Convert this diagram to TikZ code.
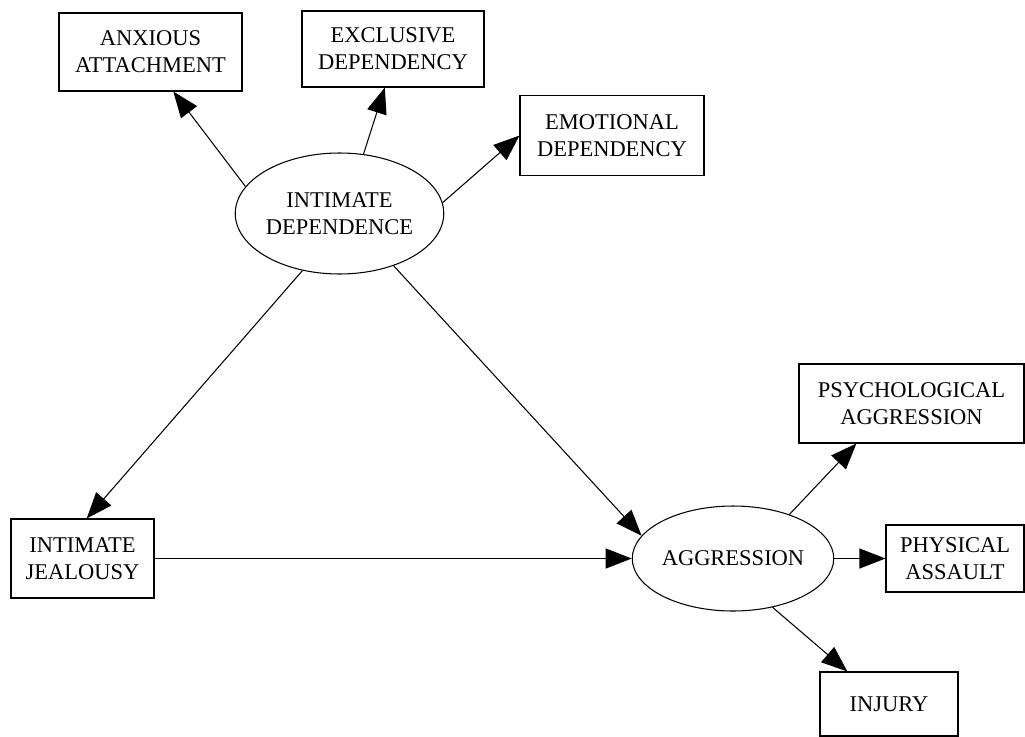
\documentclass[tikz,border=0pt]{standalone}
\usepackage{fontspec}
\setmainfont{Liberation Serif}
\usepackage{tikz}
\usetikzlibrary{shapes.geometric,arrows.meta}

\begin{document}
\begin{tikzpicture}
\tikzstyle{latent}=[ellipse, draw=black, line width=0.6pt, inner sep=0pt, align=center, font=\fontsize{12.8}{15.4}\selectfont]
\tikzstyle{observed}=[rectangle, draw=black, line width=0.6pt, inner sep=0pt, align=center, font=\fontsize{12.8}{15.4}\selectfont]
\tikzstyle{connect}=[-{Triangle[length=5.2mm, width=4mm]}, line width=0.6pt]
\useasboundingbox (0,0) rectangle (20.5,-14.72);
	\node[observed, minimum width=3.66cm, minimum height=1.56cm] (anx) at (3.01,-1.04) {ANXIOUS\\ATTACHMENT};
	\node[observed, minimum width=3.64cm, minimum height=1.52cm] (exc) at (7.86,-0.98) {EXCLUSIVE\\DEPENDENCY};
	\node[observed, minimum width=3.68cm, minimum height=1.6cm] (emo) at (12.24,-2.71) {EMOTIONAL\\DEPENDENCY};
	\node[latent, minimum width=3.86cm, minimum height=2.42cm] (id) at (6.79,-4.27) {INTIMATE\\DEPENDENCE};
	\node[observed, minimum width=2.86cm, minimum height=1.58cm] (jea) at (1.65,-11.17) {INTIMATE\\JEALOUSY};
	\node[latent, minimum width=3.44cm, minimum height=2.1cm] (agg) at (14.66,-11.17) {AGGRESSION};
	\node[observed, minimum width=4.5cm, minimum height=1.58cm] (psy) at (18.23,-8.07) {PSYCHOLOGICAL\\AGGRESSION};
	\node[observed, minimum width=2.76cm, minimum height=1.34cm] (phy) at (19.1,-11.17) {PHYSICAL\\ASSAULT};
	\node[observed, minimum width=2.76cm, minimum height=1.28cm] (inj) at (17.78,-14.08) {INJURY};

	\path
		(id.164) edge [connect] (anx.-60)
		(id.68) edge [connect] (exc.-102)
		(id.6) edge [connect] (emo.west)
		(id.-123) edge [connect] (jea.84)
		(id.-44) edge [connect] (agg.166)
		(jea.east) edge [connect] (agg.west)
		(agg.38) edge [connect] (psy.-144)
		(agg.east) edge [connect] (phy.west)
		(agg.-51) edge [connect] (inj.142);

\end{tikzpicture}
\end{document}
